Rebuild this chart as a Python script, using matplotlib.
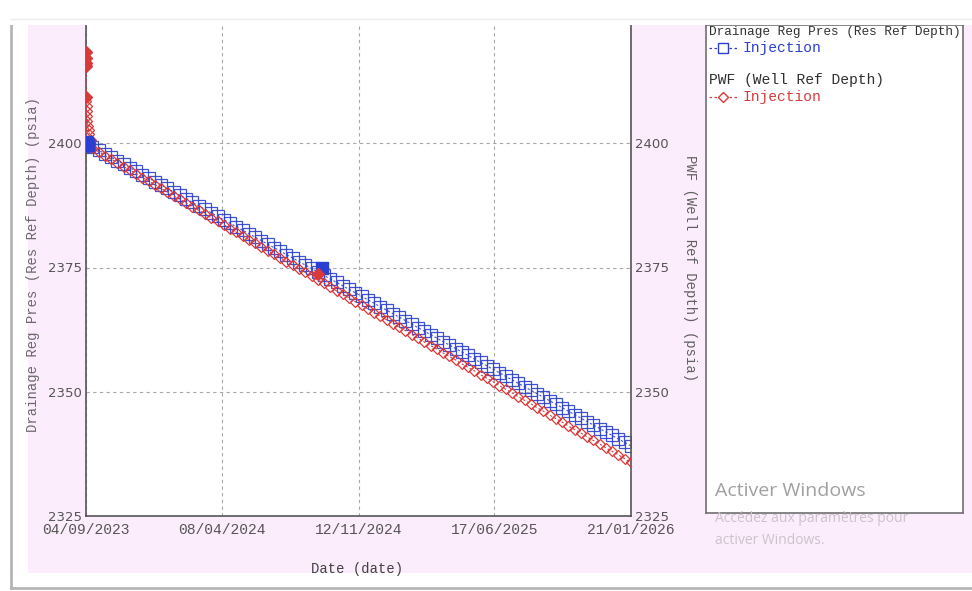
import numpy as np
import pandas as pd
import matplotlib
matplotlib.use("Agg")
import matplotlib.pyplot as plt
from matplotlib.patches import Rectangle
from matplotlib.lines import Line2D

# ---------------- data ----------------
start_date = "2023-09-04"
x_tick_labels = ["04/09/2023", "08/04/2024", "12/11/2024", "17/06/2025", "21/01/2026"]
y_ticks = [2325, 2350, 2375, 2400, 2425]

# early samples (days after start)
blue_early_days = [0, 0.5, 1, 2, 3, 5]
blue_early_vals = [2400.3, 2400.1, 2400.0, 2399.9, 2399.7, 2399.5]
red_early_days = [0, 0.05, 0.1, 0.15, 0.3, 0.5, 0.8, 1.2, 1.7, 2.3, 3.0, 4.0, 5.5, 7.5]
red_early_vals = [2418.3, 2417.2, 2416.2, 2415.6, 2409.3, 2408.5, 2407.5, 2406.5,
                  2405.5, 2404.5, 2403.5, 2402.6, 2401.8, 2400.6]

main_days = list(range(10, 871, 10))
drainage_vals = [
    2399.3, 2398.6, 2397.9, 2397.2, 2396.5, 2395.8, 2395.1, 2394.4, 2393.7, 2393.0,
    2392.3, 2391.6, 2390.9, 2390.2, 2389.5, 2388.8, 2388.1, 2387.4, 2386.7, 2386.0,
    2385.3, 2384.6, 2383.9, 2383.2, 2382.5, 2381.8, 2381.1, 2380.4, 2379.7, 2379.0,
    2378.3, 2377.6, 2376.9, 2376.2, 2375.5, 2374.8, 2374.1, 2373.4, 2372.7, 2372.0,
    2371.3, 2370.6, 2369.9, 2369.2, 2368.5, 2367.8, 2367.1, 2366.4, 2365.7, 2365.0,
    2364.3, 2363.6, 2362.9, 2362.2, 2361.5, 2360.8, 2360.1, 2359.4, 2358.7, 2358.0,
    2357.3, 2356.6, 2355.9, 2355.2, 2354.5, 2353.8, 2353.1, 2352.4, 2351.7, 2351.0,
    2350.3, 2349.6, 2348.9, 2348.2, 2347.5, 2346.8, 2346.1, 2345.4, 2344.7, 2344.0,
    2343.3, 2342.6, 2341.9, 2341.2, 2340.5, 2339.8, 2339.1]
pwf_vals = [
    2399.0, 2398.3, 2397.5, 2396.8, 2396.1, 2395.3, 2394.6, 2393.9, 2393.1, 2392.4,
    2391.7, 2390.9, 2390.2, 2389.4, 2388.7, 2388.0, 2387.2, 2386.5, 2385.8, 2385.0,
    2384.3, 2383.6, 2382.8, 2382.1, 2381.4, 2380.6, 2379.9, 2379.2, 2378.4, 2377.7,
    2377.0, 2376.2, 2375.5, 2374.7, 2374.0, 2373.3, 2372.5, 2371.8, 2371.1, 2370.3,
    2369.6, 2368.9, 2368.1, 2367.4, 2366.7, 2365.9, 2365.2, 2364.5, 2363.7, 2363.0,
    2362.3, 2361.5, 2360.8, 2360.0, 2359.3, 2358.6, 2357.8, 2357.1, 2356.4, 2355.6,
    2354.9, 2354.2, 2353.4, 2352.7, 2352.0, 2351.2, 2350.5, 2349.8, 2349.0, 2348.3,
    2347.6, 2346.8, 2346.1, 2345.3, 2344.6, 2343.9, 2343.1, 2342.4, 2341.7, 2340.9,
    2340.2, 2339.5, 2338.7, 2338.0, 2337.3, 2336.5, 2335.8]

# highlighted (filled) samples
blue_sel_days = [0, 1, 3, 377]
blue_sel_vals = [2400.2, 2400.0, 2399.7, 2375.0]
red_sel_days = [0, 0.05, 0.1, 0.15, 0.3, 370]
red_sel_vals = [2418.3, 2417.2, 2416.2, 2415.6, 2409.3, 2373.6]

legend_titles = ["Drainage Reg Pres (Res Ref Depth)", "PWF (Well Ref Depth)"]
legend_entries = ["Injection", "Injection"]

# ---------------- figure ----------------
W, H = 972, 591
fig = plt.figure(figsize=(W / 100, H / 100), dpi=100)
fig.patch.set_facecolor("white")


def fx(x):
    return x / W


def fy(y):
    return 1 - y / H


pink = "#fcedfc"
fig.add_artist(Rectangle((fx(28), fy(573)), fx(972 - 28), (573 - 25) / H,
                         transform=fig.transFigure, facecolor=pink,
                         edgecolor="none", zorder=-5))
fig.add_artist(Line2D([fx(11), fx(11)], [fy(20), fy(588)], transform=fig.transFigure,
                      color="#b5b5b5", lw=2.0, zorder=-4))
fig.add_artist(Line2D([fx(11), fx(972)], [fy(588), fy(588)], transform=fig.transFigure,
                      color="#b5b5b5", lw=2.0, zorder=-4))

base = pd.Timestamp(start_date)


def to_dates(days):
    return [base + pd.Timedelta(days=float(d)) for d in days]


ax_l, ax_r, ax_b, ax_t = 86, 631, 516, 19
ax = fig.add_axes([fx(ax_l), fy(ax_b), (ax_r - ax_l) / W, (ax_b - ax_t) / H])
ax.set_facecolor("white")

blue = "#2a3fd0"
red = "#d83a3a"

bx = to_dates(blue_early_days + main_days)
by = blue_early_vals + drainage_vals
rx = to_dates(red_early_days + main_days)
ry = red_early_vals + pwf_vals

ax.plot(rx, ry, linestyle=(0, (2, 2)), color=red, lw=0.8, marker="D",
        markersize=5.5, markerfacecolor="none", markeredgecolor=red,
        markeredgewidth=0.9, zorder=3)
ax.plot(bx, by, linestyle=(0, (2, 2)), color=blue, lw=0.8, marker="s",
        markersize=8, markerfacecolor="none", markeredgecolor=blue,
        markeredgewidth=0.9, zorder=2, alpha=0.9)
ax.plot(to_dates(blue_sel_days), blue_sel_vals, linestyle="none", marker="s",
        markersize=8, color=blue, zorder=4)
ax.plot(to_dates(red_sel_days), red_sel_vals, linestyle="none", marker="D",
        markersize=6, color=red, zorder=5)

tick_dates = [pd.to_datetime(t, format="%d/%m/%Y") for t in x_tick_labels]
ax.set_xlim(tick_dates[0], tick_dates[-1])
ax.set_ylim(y_ticks[0], y_ticks[-1])
ax.set_xticks(tick_dates)
ax.set_xticklabels(x_tick_labels, family="Liberation Mono", fontsize=10.5, color="#555555")
ax.set_yticks(y_ticks)
ax.set_yticklabels([str(v) for v in y_ticks], family="DejaVu Sans", fontsize=9.5,
                   color="#555555")
ax.tick_params(axis="both", length=0, pad=3)
ax.tick_params(axis="x", pad=5)
ax.grid(True, color="#a8a8a8", linestyle=(0, (3, 3)), lw=0.8)
for s in ["left", "right", "bottom"]:
    ax.spines[s].set_color("#555555")
    ax.spines[s].set_linewidth(1.2)
ax.spines["top"].set_visible(False)

ax2 = ax.twinx()
ax2.set_ylim(y_ticks[0], y_ticks[-1])
ax2.set_yticks(y_ticks)
ax2.set_yticklabels([str(v) for v in y_ticks], family="DejaVu Sans", fontsize=9.5,
                    color="#555555")
ax2.tick_params(axis="y", length=0, pad=3)
for s in ["left", "right", "bottom", "top"]:
    ax2.spines[s].set_visible(False)

fig.text(fx(33), fy(265), "Drainage Reg Pres (Res Ref Depth) (psia)", rotation=90,
         ha="center", va="center", family="Liberation Mono", fontsize=10, color="#6a6a6a")
fig.text(fx(690), fy(268), "PWF (Well Ref Depth) (psia)", rotation=270,
         ha="center", va="center", family="Liberation Mono", fontsize=10, color="#606060")
fig.text(fx(357), fy(569), "Date (date)", ha="center", va="center",
         family="Liberation Mono", fontsize=10, color="#404040")

# legend box
lg = fig.add_axes([fx(706), fy(513), (963 - 706) / W, (513 - 25) / H])
lg.set_xlim(706, 963)
lg.set_ylim(513, 25)
lg.set_xticks([])
lg.set_yticks([])
lg.set_facecolor("white")
for s in lg.spines.values():
    s.set_color("#707070")
    s.set_linewidth(1.2)
lg.text(709, 32, legend_titles[0], family="Liberation Mono",
        fontsize=9.2, color="#303030", va="center", ha="left")
lg.plot([709, 739], [48, 48], linestyle=(0, (2, 2)), color=blue, lw=0.9)
lg.plot([723], [48], marker="s", markersize=7, markerfacecolor="white",
        markeredgecolor=blue, markeredgewidth=1)
lg.text(743, 48, legend_entries[0], family="Liberation Mono", fontsize=10.5,
        color=blue, va="center", ha="left")
lg.text(709, 80, legend_titles[1], family="Liberation Mono",
        fontsize=10.5, color="#303030", va="center", ha="left")
lg.plot([709, 739], [97, 97], linestyle=(0, (2, 2)), color=red, lw=0.9)
lg.plot([723], [97], marker="D", markersize=5.5, markerfacecolor="white",
        markeredgecolor=red, markeredgewidth=1)
lg.text(743, 97, legend_entries[1], family="Liberation Mono", fontsize=10.5,
        color=red, va="center", ha="left")

# watermark
fig.text(fx(715), fy(491), "Activer Windows", family="Open Sans", fontsize=14,
         color="#a0a0a0", ha="left", va="center", zorder=20)
fig.text(fx(715), fy(518), "Accédez aux paramètres pour", family="Open Sans",
         fontsize=10, color="#cbc3cb", ha="left", va="center", zorder=20)
fig.text(fx(715), fy(540), "activer Windows.", family="Open Sans",
         fontsize=10, color="#cbc3cb", ha="left", va="center", zorder=20)

# top clipping band of the screenshot
fig.add_artist(Rectangle((0, fy(25)), 1, 25 / H, transform=fig.transFigure,
                         facecolor="white", edgecolor="none", zorder=10))
fig.add_artist(Line2D([fx(11), fx(972)], [fy(19), fy(19)], transform=fig.transFigure,
                      color="#ececec", lw=1.0, zorder=11))

fig.savefig("out.png", dpi=100)
